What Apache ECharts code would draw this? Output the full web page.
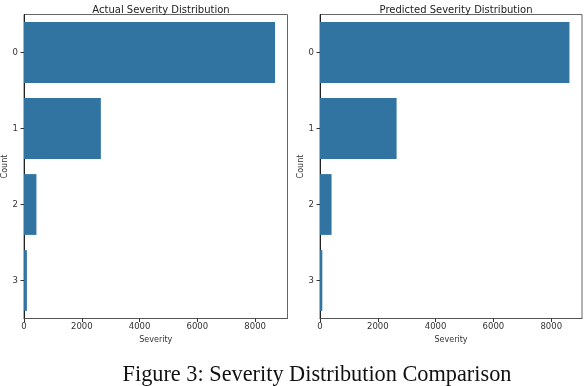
<!DOCTYPE html>
<html>
<head>
<meta charset="utf-8">
<script src="https://cdn.jsdelivr.net/npm/echarts@6/dist/echarts.min.js"></script>
<style>
    html, body { margin: 0; padding: 0; background: #fff; }
    #chart { width: 586px; height: 386px; }
</style>
</head>
<body>
<div id="chart"></div>
<script>
const severityLevels = ['0', '1', '2', '3'];
const actualCounts = [8690, 2660, 430, 100];
const predictedCounts = [8630, 2650, 400, 80];
const xTicks = [0, 2000, 4000, 6000, 8000];

const barColor = '#3274a1';
const textFont = 'DejaVu Sans';

const chart = echarts.init(document.getElementById('chart'));

function makeX(gridIndex, max) {
    return {
        type: 'value',
        gridIndex: gridIndex,
        min: 0,
        max: max,
        interval: 2000,
        name: 'Severity',
        nameLocation: 'middle',
        nameGap: 17,
        nameTextStyle: { fontFamily: textFont, fontSize: 8, color: '#333' },
        axisLine: { show: true, lineStyle: { color: '#555' } },
        axisTick: { show: true, length: 3.5, lineStyle: { color: '#333' }, customValues: xTicks },
        axisLabel: {
            fontFamily: textFont, fontSize: 8.5, color: '#333', margin: 4,
            customValues: xTicks,
            formatter: v => String(v)
        },
        splitLine: { show: false }
    };
}

function makeY(gridIndex) {
    return {
        type: 'category',
        gridIndex: gridIndex,
        data: severityLevels,
        inverse: true,
        name: 'Count',
        nameLocation: 'middle',
        nameGap: 14.5,
        nameRotate: 90,
        nameTextStyle: { fontFamily: textFont, fontSize: 8, color: '#333' },
        axisLine: { show: true, lineStyle: { color: '#222' } },
        axisTick: { show: true, length: 3.5, alignWithLabel: true, lineStyle: { color: '#333' } },
        axisLabel: { fontFamily: textFont, fontSize: 8.5, color: '#333', margin: 6 },
        splitLine: { show: false }
    };
}

const option = {
    animation: false,
    backgroundColor: '#fff',
    title: [
        {
            text: 'Actual Severity Distribution',
            left: 156, top: 0, textAlign: 'center',
            textStyle: { fontFamily: textFont, fontSize: 10, fontWeight: 'normal', color: '#222' }
        },
        {
            text: 'Predicted Severity Distribution',
            left: 451, top: 0, textAlign: 'center',
            textStyle: { fontFamily: textFont, fontSize: 10, fontWeight: 'normal', color: '#222' }
        },
        {
            text: 'Figure 3: Severity Distribution Comparison',
            left: 312, top: 359, textAlign: 'center',
            textStyle: { fontFamily: 'Liberation Serif', fontSize: 22.3, fontWeight: 'normal', color: '#111' }
        }
    ],
    grid: [
        { left: 24, width: 263.5, top: 14.5, height: 304, outerBoundsMode: 'none', containLabel: false, show: true, borderColor: '#666', borderWidth: 1, backgroundColor: 'transparent' },
        { left: 320, width: 262, top: 14.5, height: 304, outerBoundsMode: 'none', containLabel: false, show: true, borderColor: '#666', borderWidth: 1, backgroundColor: 'transparent' }
    ],
    xAxis: [makeX(0, 9120), makeX(1, 9064)],
    yAxis: [makeY(0), makeY(1)],
    series: [
        {
            type: 'bar', xAxisIndex: 0, yAxisIndex: 0,
            data: actualCounts,
            barCategoryGap: '20%',
            itemStyle: { color: barColor }
        },
        {
            type: 'bar', xAxisIndex: 1, yAxisIndex: 1,
            data: predictedCounts,
            barCategoryGap: '20%',
            itemStyle: { color: barColor }
        }
    ]
};

chart.setOption(option);
</script>
</body>
</html>
